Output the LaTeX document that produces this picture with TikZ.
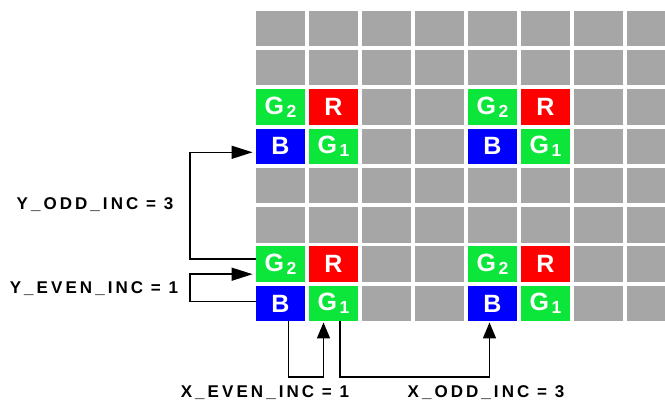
\documentclass[tikz,border=0pt]{standalone}
\usepackage{fontspec}
\setmainfont{Liberation Sans}
\newfontfamily\lblfont{Liberation Sans}[LetterSpace=18]
\usetikzlibrary{arrows.meta}
\definecolor{cellgray}{RGB}{166,166,166}
\definecolor{pxgreen}{RGB}{12,230,58}
\definecolor{pxred}{RGB}{255,0,0}
\definecolor{pxblue}{RGB}{0,0,255}

\newcommand\gsub[1]{G\kern2.5pt\raisebox{-3pt}{\fontsize{17.5}{17.5}\selectfont #1}}

\tikzset{
  cell/.style={minimum width=49.5pt, minimum height=35.5pt, inner sep=0pt, fill=cellgray},
  pix/.style={cell, text=white, font=\bfseries\fontsize{25}{25}\selectfont},
  conn/.style={line width=1.5pt, -{Triangle[length=#1, width=13pt]}},
  conn/.default=16pt,
  lbl/.style={font=\lblfont\bfseries\fontsize{17}{20}\selectfont, inner sep=0pt}
}

\begin{document}
\begin{tikzpicture}[x=1pt, y=1pt]

  \useasboundingbox (0,0) rectangle (665,404);
  \clip (0,0) rectangle (665,404);

  % Pixel grid
  \foreach \r in {1,...,8}
    \foreach \c in {1,...,8}
      \node[cell] (c-\r-\c) at ({280.5+53*(\c-1)}, {375.6-39.3*(\r-1)}) {};

  % Bayer blocks
  \foreach \r in {3,7}
    \foreach \c in {1,5} {
      \pgfmathtruncatemacro\rb{\r+1}
      \pgfmathtruncatemacro\cr{\c+1}
      \node[pix, fill=pxgreen] (g2-\r-\c) at (c-\r-\c) {\gsub{2}};
      \node[pix, fill=pxred] (r-\r-\cr) at (c-\r-\cr) {R};
      \node[pix, fill=pxblue] (b-\rb-\c) at (c-\rb-\c) {B};
      \node[pix, fill=pxgreen] (g1-\rb-\cr) at (c-\rb-\cr) {\gsub{1}};
    }

  % Y increments
  \draw[conn=21pt] ([yshift=5pt]g2-7-1.west) -- ++(-65.7,0) |- ([xshift=-3pt, yshift=-6pt]b-4-1.west);
  \draw[conn=21pt] ([yshift=2pt]b-8-1.west) -- ++(-65.7,0) |- ([xshift=-3pt, yshift=-10pt]g2-7-1.west);
  \node[lbl] (yodd) at (95,199) {Y\_ODD\_INC = 3};
  \node[lbl] (yeven) at (94,115.7) {Y\_EVEN\_INC = 1};

  % X increments
  \draw[conn] ([xshift=8pt]b-8-1.south) -- ++(0,-55.4) -| ([xshift=-10pt, yshift=-1pt]g1-8-2.south);
  \draw[conn] ([xshift=6.5pt]g1-8-2.south) -- ++(0,-55.4) -| ([xshift=-3pt, yshift=-1pt]b-8-5.south);
  \node[lbl] (xeven) at (265,11.2) {X\_EVEN\_INC = 1};
  \node[lbl] (xodd) at (486,11.2) {X\_ODD\_INC = 3};

\end{tikzpicture}
\end{document}
